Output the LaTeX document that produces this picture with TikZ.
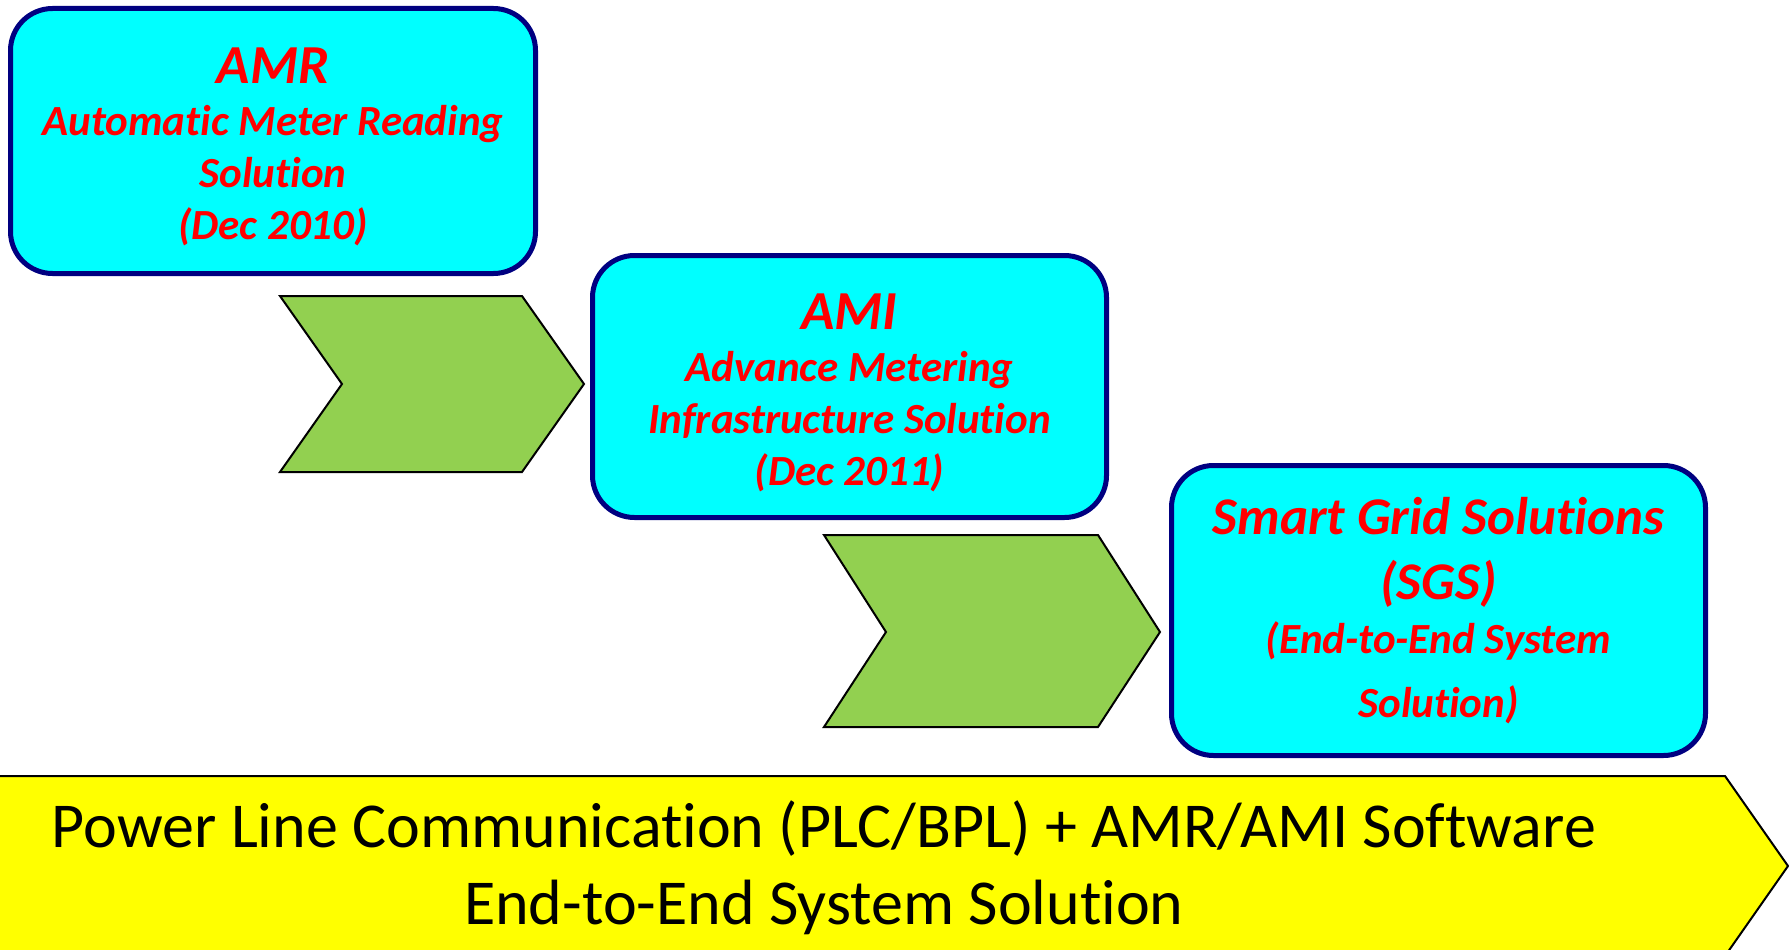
\documentclass[tikz,border=0pt]{standalone}
\usepackage{fontspec}
\setmainfont[Ligatures=NoCommon]{Carlito}
\usetikzlibrary{positioning}
\definecolor{stagecyan}{RGB}{0,255,255}
\definecolor{stagenavy}{RGB}{0,0,128}
\definecolor{chevgreen}{RGB}{146,208,80}
\definecolor{bandyellow}{RGB}{255,255,0}
\newcommand\headgap{\rule{0pt}{48pt}}
\tikzset{
  stage/.style={draw=stagenavy,line width=5pt,fill=stagecyan,rounded corners=42pt,
    text=red,align=center,inner sep=0pt,
    font=\bfseries\itshape\fontsize{43}{52}\selectfont},
  chev/.style={draw=black,line width=2pt,fill=chevgreen},
  band/.style={draw=black,line width=2pt,fill=bandyellow}
}

\begin{document}
\begin{tikzpicture}[x=1pt,y=-1pt]
\useasboundingbox (0,0) rectangle (1789,950);
\clip (0,0) rectangle (1789,950);
% stages
\node[stage,minimum width=525pt,minimum height=265pt] (amr) at (273,141)
  {{\fontsize{55}{55}\selectfont\headgap AMR}\\Automatic Meter Reading\\Solution\\(Dec 2010)};
\node[stage,minimum width=514pt,minimum height=262pt] (ami) at (849.5,386.5)
  {{\fontsize{55}{55}\selectfont\headgap AMI}\\Advance Metering\\Infrastructure Solution\\(Dec 2011)};
\node[stage,minimum width=534pt,minimum height=290pt,
  font=\bfseries\itshape\fontsize{43}{58}\selectfont] (sgs) at (1438.5,610.5)
  {{\fontsize{53}{53}\selectfont Smart Grid Solutions}\\[7pt]
   {\fontsize{53}{53}\selectfont (SGS)}\\[-4pt](End-to-End System\\[6pt]Solution)};
% chevrons
\draw[chev] (280,296)--(522,296)--(584,384)--(522,472)--(280,472)--(342,384)--cycle;
\draw[chev] (824,535)--(1098,535)--(1160,632)--(1098,727)--(824,727)--(886,632)--cycle;
% bottom band
\draw[band] (-5,776)--(1725,776)--(1788,866)--(1725,956)--(-5,956)--cycle;
\node[align=center,font=\fontsize{64}{77}\selectfont] (plc) at (824,868)
  {Power Line Communication (PLC/BPL) + AMR/AMI Software\\End-to-End System Solution};
\end{tikzpicture}
\end{document}
